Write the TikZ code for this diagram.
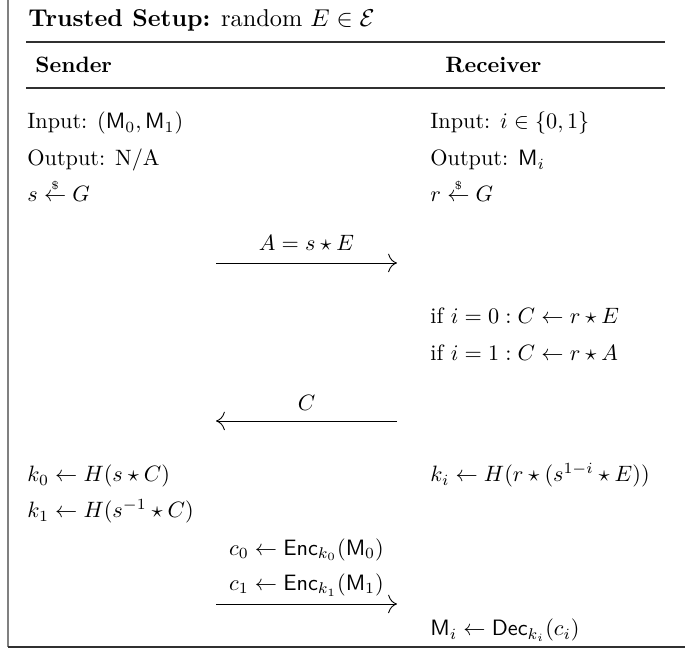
\documentclass[tikz,border=0pt]{standalone}
\usepackage{amsmath,amssymb}
\usepackage{tikz}
\usetikzlibrary{positioning,arrows.meta}
\definecolor{grey500}{HTML}{808080}
\definecolor{grey800}{HTML}{303030}
\tikzset{
  px/.style    ={x=0.45pt, y=-0.45pt},
  frame/.style ={draw=grey500, line width=1pt},
  floor/.style ={draw=grey800, line width=1pt},
  hrule/.style ={draw=grey800, line width=0.6pt},
  title/.style ={anchor=base west, inner sep=0pt,
                 font=\fontsize{10.95}{13.6}\selectfont},
  head/.style  ={anchor=base west, inner sep=0pt, font=\bfseries},
  txt/.style   ={anchor=base west, inner sep=0pt},
  msg/.style   ={-{To[length=1.4mm]}, line width=0.4pt},
  lbl/.style   ={midway, anchor=base, inner sep=0pt},
  lbls/.style  ={midway, anchor=south, inner sep=0pt, align=center}
}

\begin{document}
\begin{tikzpicture}[px]
\useasboundingbox (0,0) rectangle (685,651);
% frame, open at top and right
\coordinate (ftop) at (8,0);
\coordinate (fbot) at (8,647);
\coordinate (fend) at (685,647);
\draw[frame] (ftop) -- (fbot);
\draw[floor] (fbot) -- (fend);

% header
\node[title] (setup) at (28,27) {\textbf{Trusted Setup:} random $E\in\mathcal{E}$};
\coordinate (r1a) at (26,42);
\coordinate (r1b) at (665,42);
\draw[hrule] (r1a) -- (r1b);
\node[head] (snd) at (35,73) {Sender};
\node[head] (rcv) at (445,73) {Receiver};
\coordinate (r2a) at (26,88);
\coordinate (r2b) at (665,88);
\draw[hrule] (r2a) -- (r2b);

% sender / receiver set up
\node[txt] (sin)  at (27,129) {Input: $(\mathsf{M}_0,\mathsf{M}_1)$};
\node[txt] (sout) at (27,166) {Output: N/A};
\node[txt] (ss)   at (27,202) {$s \stackrel{\scriptscriptstyle\$}{\leftarrow} G$};
\node[txt] (rin)  at (430,129) {Input: $i\in\{0,1\}$};
\node[txt] (rout) at (430,166) {Output: $\mathsf{M}_i$};
\node[txt] (rr)   at (430,202) {$r \stackrel{\scriptscriptstyle\$}{\leftarrow} G$};

% first message
\coordinate (m1a) at (216,263);
\coordinate (m1b) at (397,263);
\draw[msg] (m1a) -- node[lbl,yshift=5.4pt]{$A = s\star E$} (m1b);

\node[txt] (rc0) at (430,324) {if $i=0: C\leftarrow r\star E$};
\node[txt] (rc1) at (430,361) {if $i=1: C\leftarrow r\star A$};

% second message
\coordinate (m2a) at (216,421);
\coordinate (m2b) at (397,421);
\draw[msg] (m2b) -- node[lbl,yshift=4.9pt]{$C$} (m2a);

\node[txt] (sk0) at (27,482) {$k_0\leftarrow H(s\star C)$};
\node[txt] (sk1) at (27,518) {$k_1\leftarrow H(s^{-1}\star C)$};
\node[txt] (rki) at (430,482) {$k_i\leftarrow H(r\star(s^{1-i}\star E))$};

% third message
\coordinate (m3a) at (216,604);
\coordinate (m3b) at (397,604);
\draw[msg] (m3a) -- node[lbls,yshift=3.3pt]
  {$c_0\leftarrow\mathsf{Enc}_{k_0}(\mathsf{M}_0)$\\[4pt]
   $c_1\leftarrow\mathsf{Enc}_{k_1}(\mathsf{M}_1)$} (m3b);

\node[txt] (rdec) at (430,636) {$\mathsf{M}_i\leftarrow\mathsf{Dec}_{k_i}(c_i)$};
\end{tikzpicture}
\end{document}
